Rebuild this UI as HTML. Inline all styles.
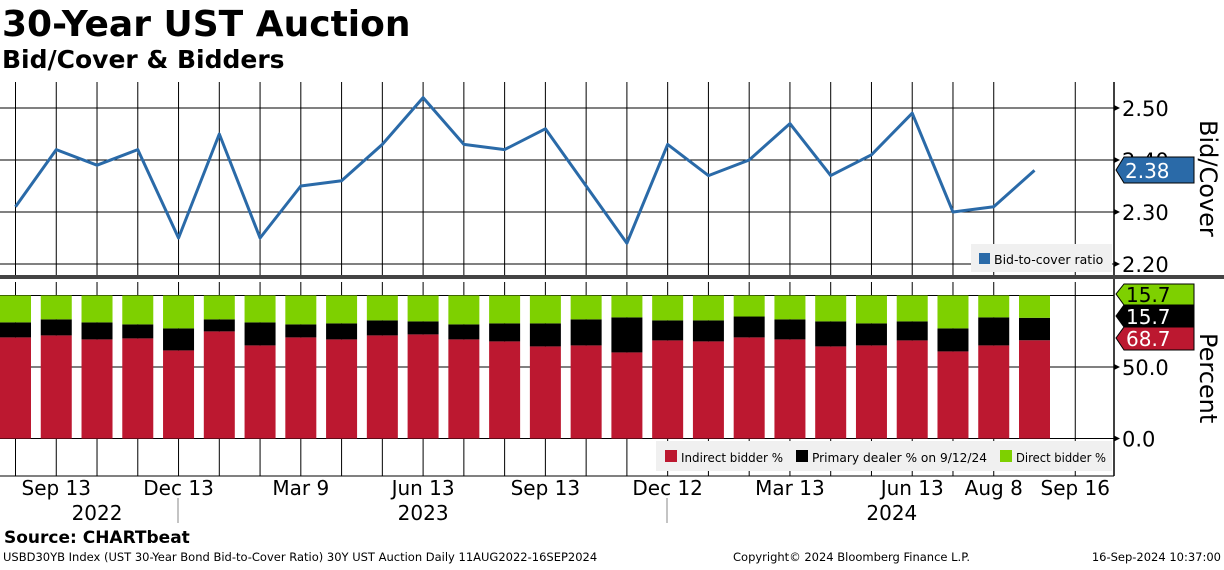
<!DOCTYPE html>
<html><head><meta charset="utf-8"><style>
body{margin:0;background:#fff;width:1224px;height:566px;overflow:hidden;font-family:"DejaVu Sans","Liberation Sans",sans-serif}
</style></head><body>
<svg id="c" width="1224" height="566" xmlns="http://www.w3.org/2000/svg">
<text x="2" y="36" font-size="36" font-weight="bold" font-family="DejaVu Sans, sans-serif">30-Year UST Auction</text>
<text x="2" y="68" font-size="25" font-weight="bold" font-family="DejaVu Sans, sans-serif">Bid/Cover &amp; Bidders</text>
<g id="grid"></g>
<g id="bars"></g>
<g id="line"></g>
<g id="axes"></g>
</svg>
<script>
const btc=[2.31,2.42,2.39,2.42,2.25,2.45,2.25,2.35,2.36,2.43,2.52,2.43,2.42,2.46,2.35,2.24,2.43,2.37,2.40,2.47,2.37,2.41,2.49,2.30,2.31,2.38];
const indirect=[70.7,72.1,69.3,70.0,61.6,74.9,65.1,70.7,69.3,72.1,72.8,69.3,67.9,64.4,65.1,60.2,68.6,67.9,70.7,69.3,64.4,65.1,68.6,60.9,65.1,68.7];
const dealer=[10.5,11.2,11.9,9.8,15.4,8.4,16.1,9.1,11.2,10.5,9.1,10.5,12.6,16.1,18.2,24.5,14.0,14.7,14.6,14.0,17.5,15.4,13.3,16.1,19.6,15.7];
const topTicks=["2.20","2.30","2.40","2.50"];
const botTicks=["0.0","50.0"];
const xLabels=[["Sep 13",1],["Dec 13",4],["Mar 9",7],["Jun 13",10],["Sep 13",13],["Dec 12",16],["Mar 13",19],["Jun 13",22],["Aug 8",24],["Sep 16",26]];
const years=[["2022",2],["2023",10],["2024",21.5]];
const gridIdx=[0,1,2,3,4,5,6,7,8,9,10,11,12,13,14,15,16,17,18,19,20,21,22,23,24,26];
const NS="http://www.w3.org/2000/svg";
const pitch=40.76,bw=31,axisX=1114;
const xc=i=>15.5+pitch*i;
const yTop=v=>264-(v-2.2)*520;
const yBot=v=>438.5-v*1.43;
function el(t,a,p){const e=document.createElementNS(NS,t);for(const k in a)e.setAttribute(k,a[k]);document.getElementById(p).appendChild(e);return e;}
gridIdx.forEach(i=>{
 const g=el('line',{x1:xc(i),x2:xc(i),y1:82,y2:275,stroke:'#000','stroke-width':1},'grid');
 
 
 const h=el('line',{x1:xc(i),x2:xc(i),y1:282,y2:476,stroke:'#000','stroke-width':1},'grid');
 
 
});
topTicks.forEach(t=>{
 const y=yTop(+t);
 const g=el('line',{x1:0,x2:axisX,y1:y,y2:y,stroke:'#000'},'grid');
 
 
 const tx=el('text',{x:1122,y:y+8,'font-size':21},'axes');tx.textContent=t;
 
 
 el('path',{d:`M${axisX} ${y-3}L${axisX+6} ${y}L${axisX} ${y+3}Z`},'axes');
});
[0,50,100].forEach(v=>{
 const y=yBot(v);
 const g=el('line',{x1:0,x2:axisX,y1:y,y2:y,stroke:'#000'},'grid');
 
 
});
botTicks.forEach(t=>{
 const y=yBot(+t);
 const tx=el('text',{x:1122,y:y+8,'font-size':21},'axes');tx.textContent=t;
 
 
 el('path',{d:`M${axisX} ${y-3}L${axisX+6} ${y}L${axisX} ${y+3}Z`},'axes');
});
indirect.forEach((v,i)=>{
 const x=xc(i)-bw/2,d=dealer[i];
 const r=el('rect',{x:x,y:yBot(v),width:bw,height:yBot(0)-yBot(v),fill:'#bc1830'},'bars');
 
 
 const b=el('rect',{x:x,y:yBot(v+d),width:bw,height:yBot(v)-yBot(v+d),fill:'#000'},'bars');
 
 
 const g=el('rect',{x:x,y:yBot(100),width:bw,height:yBot(v+d)-yBot(100),fill:'#7ed000'},'bars');
 
 
});
const pl=el('polyline',{points:btc.map((v,i)=>xc(i)+','+yTop(v)).join(' '),fill:'none',stroke:'#2a6aa8','stroke-width':3,'stroke-linejoin':'round'},'line');


const ax=document.getElementById('axes');
ax.insertAdjacentHTML('beforeend',`
<line x1="${axisX}" x2="${axisX}" y1="82" y2="476" stroke="#000" stroke-width="1.5"/>
<rect x="0" y="275" width="1224" height="4" fill="#444"/>
<line x1="0" x2="${axisX}" y1="476" y2="476" stroke="#000"/>
<text transform="translate(1200,120) rotate(90)" font-size="24">Bid/Cover</text>
<text transform="translate(1200,333) rotate(90)" font-size="24">Percent</text>
<rect x="971" y="244" width="141" height="28" fill="#f0f0f0"/>
<rect x="979" y="253" width="11" height="11" fill="#2a6aa8"/>
<text x="994" y="264" font-size="12.5">Bid-to-cover ratio</text>
<rect x="656" y="441" width="456" height="30" fill="#f0f0f0"/>
<rect x="665" y="450" width="12" height="12" fill="#bc1830"/>
<text x="681" y="462" font-size="12" textLength="102" lengthAdjust="spacingAndGlyphs">Indirect bidder %</text>
<rect x="796" y="450" width="12" height="12" fill="#000"/>
<text x="812" y="462" font-size="12" textLength="175" lengthAdjust="spacingAndGlyphs">Primary dealer % on 9/12/24</text>
<rect x="1000" y="450" width="12" height="12" fill="#7ed000"/>
<text x="1016" y="462" font-size="12" textLength="90" lengthAdjust="spacingAndGlyphs">Direct bidder %</text>
<path d="M1124 157H1194V183H1124L1116 170Z" fill="#2a6aa8" stroke="#000"/>
<text x="1125" y="178" font-size="20" fill="#fff">2.38</text>
<path d="M1124 284H1194V305H1124L1116 294Z" fill="#7ed000" stroke="#000"/>
<text x="1126" y="302" font-size="20" fill="#000">15.7</text>
<path d="M1124 305H1194V327H1124L1116 316Z" fill="#000" stroke="#000"/>
<text x="1126" y="324" font-size="20" fill="#fff">15.7</text>
<path d="M1124 327H1194V350H1124L1116 338Z" fill="#bc1830" stroke="#000"/>
<text x="1126" y="346" font-size="20" fill="#fff">68.7</text>
<line x1="178" x2="178" y1="498" y2="523" stroke="#888"/>
<line x1="667" x2="667" y1="498" y2="523" stroke="#888"/>
<text x="4" y="543" font-size="17" font-weight="bold">Source: CHARTbeat</text>
<text x="3" y="561" font-size="11.5">USBD30YB Index (UST 30-Year Bond Bid-to-Cover Ratio) 30Y UST Auction  Daily 11AUG2022-16SEP2024</text>
<text x="733" y="561" font-size="11.5">Copyright© 2024 Bloomberg Finance L.P.</text>
<text x="1221" y="561" font-size="11.5" text-anchor="end">16-Sep-2024 10:37:00</text>`);
xLabels.forEach(([t,i])=>{
 const tx=el('text',{x:xc(i),y:495,'font-size':20,'text-anchor':'middle'},'axes');tx.textContent=t;
 
 
});
years.forEach(([t,i])=>{
 const tx=el('text',{x:xc(i),y:520,'font-size':20,'text-anchor':'middle'},'axes');tx.textContent=t;
 
 
});
</script>
</body></html>
